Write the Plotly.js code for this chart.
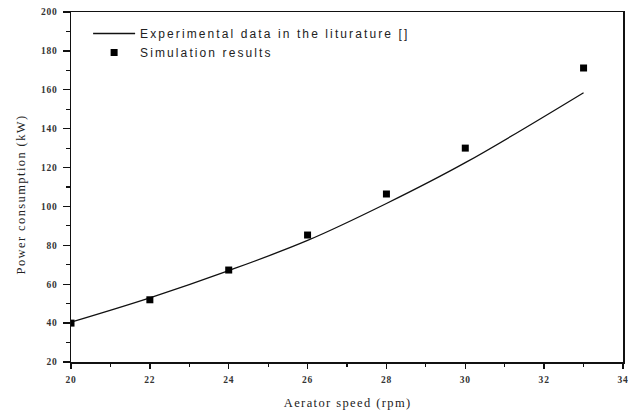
<!DOCTYPE html>
<html>
<head>
<meta charset="utf-8">
<script src="https://cdn.plot.ly/plotly-3.0.1.min.js"></script>
<style>
html,body{margin:0;padding:0;background:#fff;}
#chart{width:628px;height:412px;}
#chart .legendtext{letter-spacing:2.1px;}
#chart g.legend, #chart g.legend *{clip-path:none !important;}
#chart .xtick text, #chart .ytick text{letter-spacing:0.8px;}
#chart .annotation-text{letter-spacing:1.4px;}
#chart g.annotation, #chart g.annotation *{clip-path:none !important;}
</style>
</head>
<body>
<div id="chart"></div>
<script>
// Data
const expSpeed = [20, 22, 24, 26, 28, 30, 33];
const expPower = [40.5, 53, 67, 82.5, 101.5, 122.5, 158.5];
const simSpeed = [20, 22, 24, 26, 28, 30, 33];
const simPower = [40, 52, 67.3, 85.3, 106.4, 130, 171.2];
const xTicks = [20, 22, 24, 26, 28, 30, 32, 34];
const yTicks = [20, 40, 60, 80, 100, 120, 140, 160, 180, 200];
const xTitle = 'Aerator speed (rpm)';
const yTitle = 'Power consumption (kW)';

const traces = [
  {
    x: expSpeed, y: expPower, mode: 'lines', type: 'scatter',
    name: 'Experimental data in the liturature []',
    line: {color: '#111', width: 1.3, shape: 'spline'}
  },
  {
    x: simSpeed, y: simPower, mode: 'markers', type: 'scatter',
    name: 'Simulation results',
    marker: {symbol: 'square', size: 7, color: '#000'}
  }
];

const tickFont = {family: 'Liberation Serif, serif', size: 9.5, color: '#333', weight: 'bold'};
const titleFont = {family: 'Liberation Serif, serif', size: 12.5, color: '#222'};
const layout = {
  width: 628, height: 412,
  margin: {l: 71, r: 5, t: 12, b: 50},
  paper_bgcolor: '#fff', plot_bgcolor: '#fff',
  showlegend: true,
  legend: {
    x: 0.031, y: 0.98, xanchor: 'left', yanchor: 'top',
    bgcolor: 'rgba(0,0,0,0)', borderwidth: 0,
    font: {family: 'Liberation Sans, Arial, sans-serif', size: 12, color: '#222'},
    tracegroupgap: 0, itemwidth: 42
  },
  xaxis: {
    range: [20, 34], tickvals: xTicks, ticktext: xTicks.map(String),
    ticks: 'outside', ticklen: 5, tickwidth: 1.3, tickcolor: '#111',
    minor: {dtick: 1, ticks: 'outside', ticklen: 3, tickwidth: 1.2, tickcolor: '#111', showgrid: false},
    showline: true, linecolor: '#111', linewidth: 1.5, mirror: true,
    showgrid: false, zeroline: false, tickfont: tickFont,
    ticklabeloverflow: 'allow', ticklabelstandoff: 3
  },
  yaxis: {
    range: [20, 200], tickvals: yTicks, ticktext: yTicks.map(String),
    ticks: 'outside', ticklen: 7, tickwidth: 1.3, tickcolor: '#111',
    minor: {dtick: 10, ticks: 'outside', ticklen: 4, tickwidth: 1.2, tickcolor: '#111', showgrid: false},
    showline: true, linecolor: '#111', linewidth: 1.5, mirror: true,
    showgrid: false, zeroline: false, tickfont: tickFont,
    ticklabelstandoff: 3
  },
  annotations: [
    {text: xTitle, xref: 'paper', yref: 'paper', x: 0.5, y: -(403 - 362) / 350,
     xanchor: 'center', yanchor: 'middle', showarrow: false, font: titleFont},
    {text: yTitle, xref: 'paper', yref: 'paper', x: -(71 - 21) / 552, y: (362 - 195) / 350,
     xanchor: 'center', yanchor: 'middle', textangle: -90, showarrow: false, font: titleFont}
  ]
};

Plotly.newPlot('chart', traces, layout, {staticPlot: true, displayModeBar: false});
</script>
</body>
</html>
